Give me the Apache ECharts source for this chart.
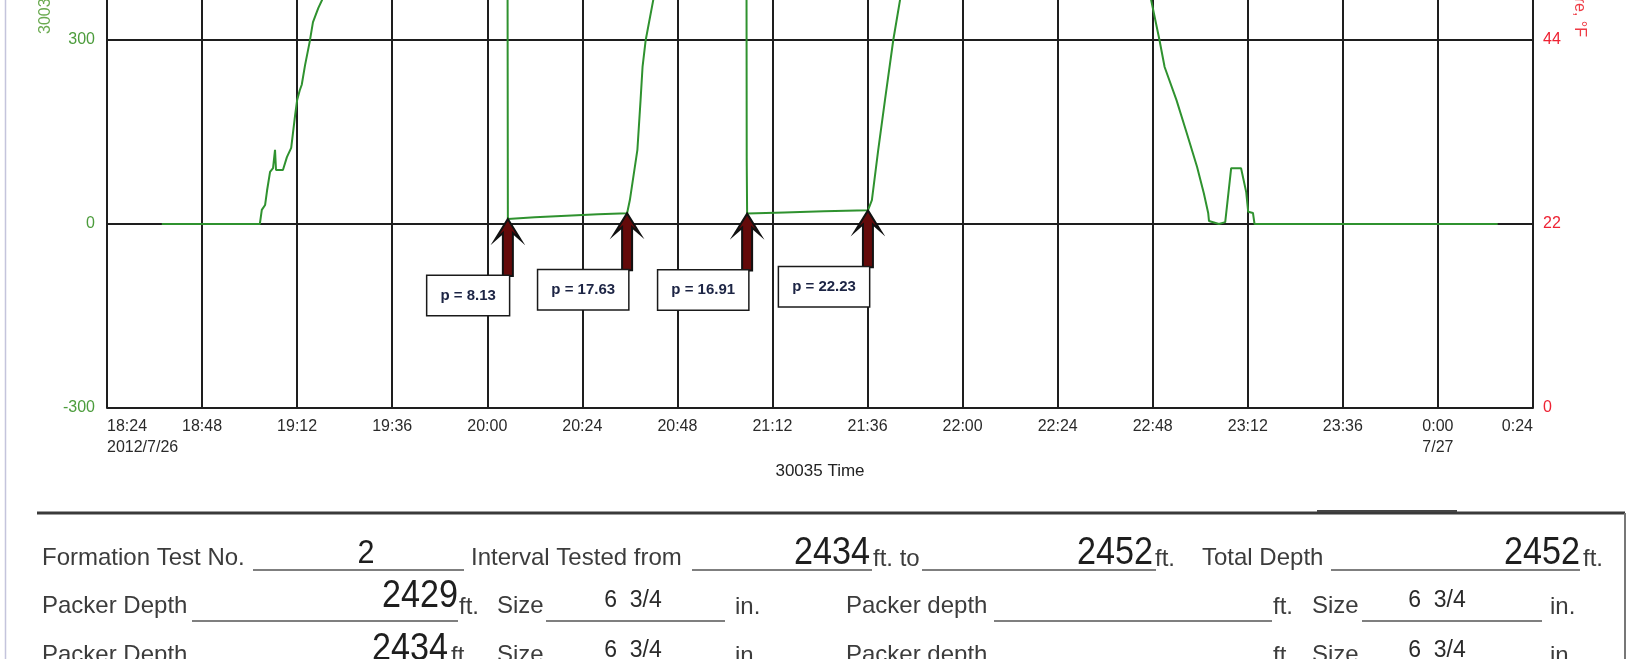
<!DOCTYPE html>
<html>
<head>
<meta charset="utf-8">
<script src="https://cdn.jsdelivr.net/npm/echarts@6/dist/echarts.min.js"></script>
<style>
html,body{margin:0;padding:0;background:#fff;}
#c{width:1632px;height:659px;}
</style>
</head>
<body>
<div id="c"></div>
<script>
// ---- data ----
const xTickLabels = ['18:24\n2012/7/26','18:48','19:12','19:36','20:00','20:24','20:48','21:12','21:36','22:00','22:24','22:48','23:12','23:36','0:00\n7/27','0:24'];
const leftTickLabels = ['-300','0','300'];
const rightTickLabels = ['0','22','44'];

const pressureTimes = [
 '18:37:50','19:02:35','19:03:05','19:03:55','19:04:25','19:05:10','19:05:55','19:06:25','19:06:40','19:08:25',
 '19:09:25','19:10:30','19:11:30','19:12:00','19:12:40','19:13:10','19:14:00','19:15:10','19:16:00','19:17:20',
 '19:18:30','19:22:00','19:27:00','19:33:00','19:40:00','19:50:00','20:00:00','20:05:00',
 '20:05:12','20:12:00','20:20:00','20:28:00','20:35:18',
 '20:36:00','20:37:54','20:38:42','20:39:12','20:40:00','20:41:54','20:45:00','20:50:00','20:58:00','21:05:24',
 '21:05:30','21:05:36','21:15:00','21:25:00','21:36:06',
 '21:37:06','21:38:42','21:40:24','21:42:30','21:44:12','21:50:00','22:00:00','22:20:00','22:40:00','22:46:00',
 '22:47:36','22:49:42','22:51:00','22:54:00','22:56:36','22:59:12','23:00:54','23:02:00','23:02:12','23:04:42',
 '23:06:18','23:07:48','23:10:18','23:11:36','23:12:06','23:13:18','23:13:42','0:15:06'
];
const pressureValues = [
 0,0,23,31,55,85,91,121,88,88,
 109,124,178,202,218,227,259,297,329,352,
 368,480,620,760,880,960,990,1000,
 8.13,10.8,13.6,15.9,17.63,
 39,121,202,256,300,365,470,560,620,650,
 104,16.91,18.9,20.6,22.23,
 39,121,202,300,365,470,540,590,610,600,
 365,300,256,202,148,93,50,18,5,0,
 3,91,91,52,20,18,0,0
];
const annotationTimes = ['20:05:12','20:35:18','21:05:36','21:36:06'];
const annotationValues = [8.13, 17.63, 16.91, 22.23];

// ---- helpers ----
function toMin(s){
  const p = s.split(':').map(Number);
  let v = p[0]*60 + p[1] + (p[2]||0)/60;
  if (p[0] < 12) v += 1440;
  return v;
}
const X_MIN = toMin('18:24:00'), X_MAX = toMin('0:24:00'), X_INT = 24;
// the sheet is cut at the top: the visible part of the pressure axis ends a little above 300
const Y_MIN = -300, Y_INT = 300, Y_TOP = 365.2;
const R_MIN = 0, R_INT = 22, R_TOP = 48.78;
const lineData = pressureTimes.map((t,i)=>[toMin(t), pressureValues[i]]);
const annData = annotationTimes.map((t,i)=>[toMin(t), annotationValues[i]]);

const FONT = 'Liberation Sans, Arial, sans-serif';
const GRID = '#1e1e1e';

// ---- form (bottom part of the sheet) ----
const graphics = [];
function label(x,y,text,opts){
  opts = opts||{};
  graphics.push({type:'text', x:x, y:y, scaleX:opts.sx||1, silent:true,
    style:{text:text, font:(opts.size||24)+'px '+FONT, fill:opts.color||'#3c3c3c',
      align:opts.align||'left', verticalAlign:'middle'}});
}
function uline(x1,x2,y){
  graphics.push({type:'line', silent:true, shape:{x1:x1,y1:y,x2:x2,y2:y}, style:{stroke:'#555',lineWidth:1.5}});
}
graphics.push({type:'line', silent:true, shape:{x1:5.5,y1:0,x2:5.5,y2:659}, style:{stroke:'#c4c4dc',lineWidth:1.5}});
graphics.push({type:'line', silent:true, shape:{x1:37,y1:513,x2:1625,y2:513}, style:{stroke:'#3a3a3a',lineWidth:3}});
graphics.push({type:'line', silent:true, shape:{x1:1317,y1:511,x2:1457,y2:511}, style:{stroke:'#444',lineWidth:2}});
graphics.push({type:'line', silent:true, shape:{x1:1625,y1:513,x2:1625,y2:659}, style:{stroke:'#777',lineWidth:2}});

const NUM = {size:38, color:'#1e1e1e', sx:0.9};
// row 1
label(42,558,'Formation Test No.');
label(471,558,'Interval Tested from');
label(873,559,'ft. to');
label(1155,559,'ft.');
label(1202,558,'Total Depth');
label(1583,559,'ft.');
uline(253,464,570); uline(692,872,570); uline(922,1156,570); uline(1331,1580,570);
label(366,554,'2',Object.assign({align:'center'},NUM,{size:34}));
label(870,554,'2434',Object.assign({align:'right'},NUM));
label(1153,554,'2452',Object.assign({align:'right'},NUM));
label(1580,554,'2452',Object.assign({align:'right'},NUM));
// row 2 & 3
[[606,621,597,'2429',458,459,601],[655,670,650,'2434',448,451,651]].forEach(r=>{
  const y=r[0];
  label(42,y,'Packer Depth');
  label(r[5],y+1,'ft.');
  label(497,y,'Size');
  label(735,y+1,'in.');
  label(846,y,'Packer depth');
  label(1273,y+1,'ft.');
  label(1312,y,'Size');
  label(1550,y+1,'in.');
  uline(192,r[4],r[1]); uline(546,725,r[1]); uline(994,1272,r[1]); uline(1362,1542,r[1]);
  label(r[4],r[2],r[3],Object.assign({align:'right'},NUM));
  label(633,r[6],'6  3/4',{size:23,align:'center',color:'#2a2a2a'});
  label(1437,r[6],'6  3/4',{size:23,align:'center',color:'#2a2a2a'});
});
// axis names cut by the top edge
graphics.push({type:'text', x:46, y:34, rotation:Math.PI/2, silent:true,
  style:{text:'30035 Pressure, psia', font:'16px '+FONT, fill:'#6aaa50', align:'left', verticalAlign:'middle'}});
graphics.push({type:'text', x:1579, y:37, rotation:-Math.PI/2, silent:true,
  style:{text:'30035 Temperature, °F', font:'16px '+FONT, fill:'#ee3a44', align:'right', verticalAlign:'middle'}});

const chart = echarts.init(document.getElementById('c'), null, {renderer:'canvas'});
chart.setOption({
  backgroundColor:'#ffffff',
  animation:false,
  grid:{left:107, right:99, top:0, bottom:251, containLabel:false},
  xAxis:{
    type:'value', min:X_MIN, max:X_MAX, interval:X_INT,
    name:'30035 Time', nameLocation:'middle', nameGap:49,
    nameTextStyle:{fontFamily:FONT, fontSize:17, color:'#222'},
    axisLine:{show:true, lineStyle:{color:GRID, width:2}},
    axisTick:{show:false},
    splitLine:{show:true, lineStyle:{color:GRID, width:2}},
    axisLabel:{
      fontFamily:FONT, fontSize:16, color:'#2a2a2a', lineHeight:21, margin:8,
      showMinLabel:true, showMaxLabel:true, hideOverlap:false,
      alignMinLabel:'left', alignMaxLabel:'right',
      formatter:function(v){ const i=Math.round((v-X_MIN)/X_INT); return xTickLabels[i]||''; }
    }
  },
  yAxis:[{
    type:'value', min:Y_MIN, max:Y_TOP, interval:Y_INT, position:'left',
    axisLine:{show:true, lineStyle:{color:GRID, width:2}},
    axisTick:{show:false},
    splitLine:{show:true, showMaxLine:false, lineStyle:{color:GRID, width:2}},
    axisLabel:{fontFamily:FONT, fontSize:16, color:'#4c9c3c', margin:12, showMaxLabel:false,
      formatter:function(v){ const k=(v-Y_MIN)/Y_INT; return Number.isInteger(Math.round(k*1000)/1000) ? (leftTickLabels[Math.round(k)]||'') : ''; }}
  },{
    type:'value', min:R_MIN, max:R_TOP, interval:R_INT, position:'right',
    axisLine:{show:true, lineStyle:{color:GRID, width:2}},
    axisTick:{show:false},
    splitLine:{show:false},
    axisLabel:{fontFamily:FONT, fontSize:16, color:'#ee2233', margin:10, showMaxLabel:false,
      formatter:function(v){ const k=(v-R_MIN)/R_INT; return Number.isInteger(Math.round(k*1000)/1000) ? (rightTickLabels[Math.round(k)]||'') : ''; }}
  }],
  graphic:graphics,
  series:[{
    type:'line', data:lineData, xAxisIndex:0, yAxisIndex:0,
    showSymbol:false, symbol:'none', clip:true,
    lineStyle:{color:'#2f922f', width:2},
    z:3
  },{
    type:'custom', data:annData, xAxisIndex:0, yAxisIndex:0, clip:false, z:5,
    renderItem:function(params, api){
      const pt = api.coord([api.value(0), api.value(1)]);
      const x = pt[0], y = pt[1];
      const txt = 'p = ' + annotationValues[params.dataIndex];
      return {type:'group', children:[
        {type:'polygon', shape:{points:[[x,y],[x+13,y+21],[x+5,y+14],[x+5,y+57],[x-5,y+57],[x-5,y+14],[x-13,y+21]]},
          style:{fill:'#640a0a', stroke:'#111', lineWidth:2, lineJoin:'miter'}},
        {type:'text', x:x+1, y:y+57,
          style:{text:txt, font:'bold 15px '+FONT, fill:'#1c2444', align:'right', verticalAlign:'top',
            backgroundColor:'#fff', borderColor:'#1a1a1a', borderWidth:1.5, padding:[11,13,11,13], lineHeight:17}}
      ]};
    }
  }]
});
</script>
</body>
</html>
